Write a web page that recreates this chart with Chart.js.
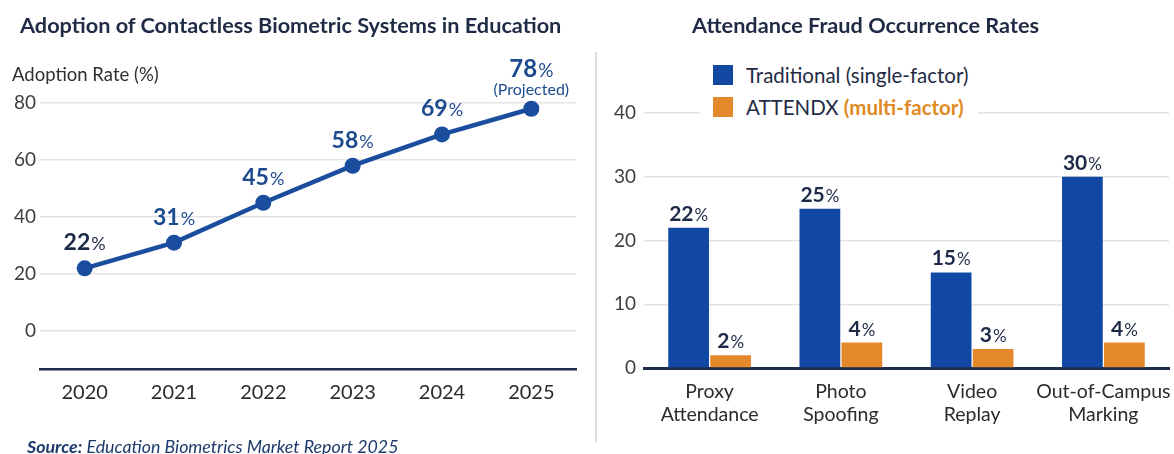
<!DOCTYPE html>
<html>
<head>
<meta charset="utf-8">
<script src="https://cdn.jsdelivr.net/npm/chart.js@4.4.1/dist/chart.umd.min.js"></script>
<style>
  body { margin: 0; width: 1174px; height: 454px; background: #fff; font-family: Lato, "Open Sans", sans-serif; overflow: hidden; position: relative; }
  canvas { position: absolute; top: 0; }
  .txt { position: absolute; white-space: nowrap; z-index: 2; }
  .title { top: 12px; font-size: 21.7px; line-height: 26px; font-weight: 700; color: #1f2b45; }
  .axis-title { left: 12px; top: 63px; font-size: 18.5px; line-height: 22px; color: #2f2f2f; }
  .source { left: 27px; top: 436px; font-size: 17.8px; line-height: 20px; font-style: italic; color: #1d3a6b; }
  .divider { position: absolute; left: 595px; top: 52px; width: 1.5px; height: 390px; background: #dcdcdc; }
  .legend-bg { position: absolute; left: 700px; top: 58px; width: 278px; height: 64px; background: #fff; z-index: 1; }
  .swatch { position: absolute; left: 713px; width: 20px; height: 20px; z-index: 2; }
  .legend-text { left: 746px; font-size: 20.5px; line-height: 22px; color: #1f2b45; }
</style>
</head>
<body>
<canvas id="adoptionChart" width="595" height="454" style="left:0"></canvas>
<canvas id="fraudChart" width="577" height="454" style="left:597px"></canvas>

<div class="txt title" style="left:20px">Adoption of Contactless Biometric Systems in Education</div>
<div class="txt title" style="left:692px">Attendance Fraud Occurrence Rates</div>
<div class="txt axis-title">Adoption Rate (%)</div>
<div class="txt source"><b>Source:</b> Education Biometrics Market Report 2025</div>
<div class="divider"></div>

<div class="legend-bg"></div>
<div class="swatch" style="top:65px; background:#1048a4"></div>
<div class="txt legend-text" style="top:64px">Traditional (single-factor)</div>
<div class="swatch" style="top:97px; background:#e4892b"></div>
<div class="txt legend-text" style="top:96px">ATTENDX <span style="color:#e08a24; font-weight:700">(multi-factor)</span></div>

<script>
// adoption line chart data
const years = ['2020', '2021', '2022', '2023', '2024', '2025'];
const adoptionRates = [22, 31, 45, 58, 69, 78];
const adoptionTicks = [0, 20, 40, 60, 80];

// fraud bar chart data
const fraudTypes = [['Proxy', 'Attendance'], ['Photo', 'Spoofing'], ['Video', 'Replay'], ['Out-of-Campus', 'Marking']];
const traditionalRates = [22, 25, 15, 30];
const attendxRates = [2, 4, 3, 4];
const fraudTicks = [0, 10, 20, 30, 40];

const FONT = 'Lato, "Open Sans", sans-serif';
const lineBlue = '#1a4d9e';
const barBlue = '#1048a4';
const barOrange = '#e4892b';
const axisDark = '#1d2d4d';

// number in bold with a smaller "%" after it, centred on x
function drawPct(ctx, value, x, baseline, size, color) {
    const num = String(value);
    ctx.font = `700 ${size}px ${FONT}`;
    const wNum = ctx.measureText(num).width;
    ctx.font = `400 ${Math.round(size * 0.8)}px ${FONT}`;
    const wPct = ctx.measureText('%').width;
    const start = x - (wNum + wPct + 1) / 2;
    ctx.fillStyle = color;
    ctx.textAlign = 'left';
    ctx.textBaseline = 'alphabetic';
    ctx.font = `700 ${size}px ${FONT}`;
    ctx.fillText(num, start, baseline);
    ctx.font = `400 ${Math.round(size * 0.8)}px ${FONT}`;
    ctx.fillText('%', start + wNum + 1, baseline);
}

const lineLabels = {
    id: 'lineLabels',
    afterDatasetsDraw(chart) {
        const ctx = chart.ctx;
        const meta = chart.getDatasetMeta(0);
        ctx.save();
        meta.data.forEach((pt, i) => {
            const val = adoptionRates[i];
            const color = i === 0 ? '#1c2a48' : '#1d4a8f';
            if (i === meta.data.length - 1) {
                drawPct(ctx, val, pt.x, pt.y - 32, 24, color);
                ctx.font = `400 16px ${FONT}`;
                ctx.textAlign = 'center';
                ctx.fillStyle = color;
                ctx.fillText('(Projected)', pt.x, pt.y - 14);
            } else {
                drawPct(ctx, val, pt.x, pt.y - 18, 23, color);
            }
        });
        ctx.restore();
    }
};

const barLabels = {
    id: 'barLabels',
    afterDatasetsDraw(chart) {
        const ctx = chart.ctx;
        ctx.save();
        chart.data.datasets.forEach((ds, di) => {
            chart.getDatasetMeta(di).data.forEach((bar, i) => {
                drawPct(ctx, ds.data[i], bar.x, bar.y - 7, 21, '#1c2a48');
            });
        });
        ctx.restore();
    }
};

new Chart(document.getElementById('adoptionChart'), {
    type: 'line',
    data: {
        labels: years,
        datasets: [{
            data: adoptionRates,
            borderColor: lineBlue,
            backgroundColor: lineBlue,
            borderWidth: 4.5,
            pointRadius: 8,
            pointBackgroundColor: lineBlue,
            pointBorderWidth: 0,
            tension: 0
        }]
    },
    options: {
        responsive: false,
        animation: false,
        devicePixelRatio: 1,
        layout: { padding: { top: 60, left: 0, right: 19, bottom: 0 } },
        plugins: { legend: { display: false }, tooltip: { enabled: false } },
        scales: {
            x: {
                offset: true,
                grid: { display: false, drawTicks: false },
                border: { display: true, color: axisDark, width: 2.5 },
                ticks: { color: '#2b2b2b', font: { family: FONT, size: 20 }, padding: 12, autoSkip: false },
                afterFit: s => { s.height = 85; }
            },
            y: {
                min: -13.33,
                max: 95.1,
                afterBuildTicks: s => { s.ticks = adoptionTicks.map(v => ({ value: v })); },
                grid: { color: '#e4e4e4', lineWidth: 1.5, drawTicks: false },
                border: { display: false },
                ticks: { color: '#3d3d3d', font: { family: FONT, size: 19 }, padding: 4 },
                afterFit: s => { s.width = 40; }
            }
        }
    },
    plugins: [lineLabels]
});

new Chart(document.getElementById('fraudChart'), {
    type: 'bar',
    data: {
        labels: fraudTypes,
        datasets: [
            { label: 'Traditional (single-factor)', data: traditionalRates, backgroundColor: barBlue },
            { label: 'ATTENDX (multi-factor)', data: attendxRates, backgroundColor: barOrange }
        ]
    },
    options: {
        responsive: false,
        animation: false,
        devicePixelRatio: 1,
        layout: { padding: { top: 113, left: 0, right: 5, bottom: 0 } },
        datasets: { bar: { categoryPercentage: 0.64, barPercentage: 0.97 } },
        plugins: { legend: { display: false }, tooltip: { enabled: false } },
        scales: {
            x: {
                grid: { display: false, drawTicks: false },
                border: { display: true, color: axisDark, width: 3 },
                ticks: { color: '#2b2b2b', font: { family: FONT, size: 19.5, lineHeight: 1.2 }, padding: 12, maxRotation: 0, autoSkip: false },
                // let the long last label hang past the plot edge
                afterFit: s => { s.height = 86; s.paddingLeft = 0; s.paddingRight = 0; }
            },
            y: {
                min: 0,
                max: 40,
                afterBuildTicks: s => { s.ticks = fraudTicks.map(v => ({ value: v })); },
                grid: { color: '#e4e4e4', lineWidth: 1.5, drawTicks: false },
                border: { display: false },
                ticks: { color: '#3d3d3d', font: { family: FONT, size: 19 }, padding: 8 },
                afterFit: s => { s.width = 47; }
            }
        }
    },
    plugins: [barLabels]
});
</script>
</body>
</html>
